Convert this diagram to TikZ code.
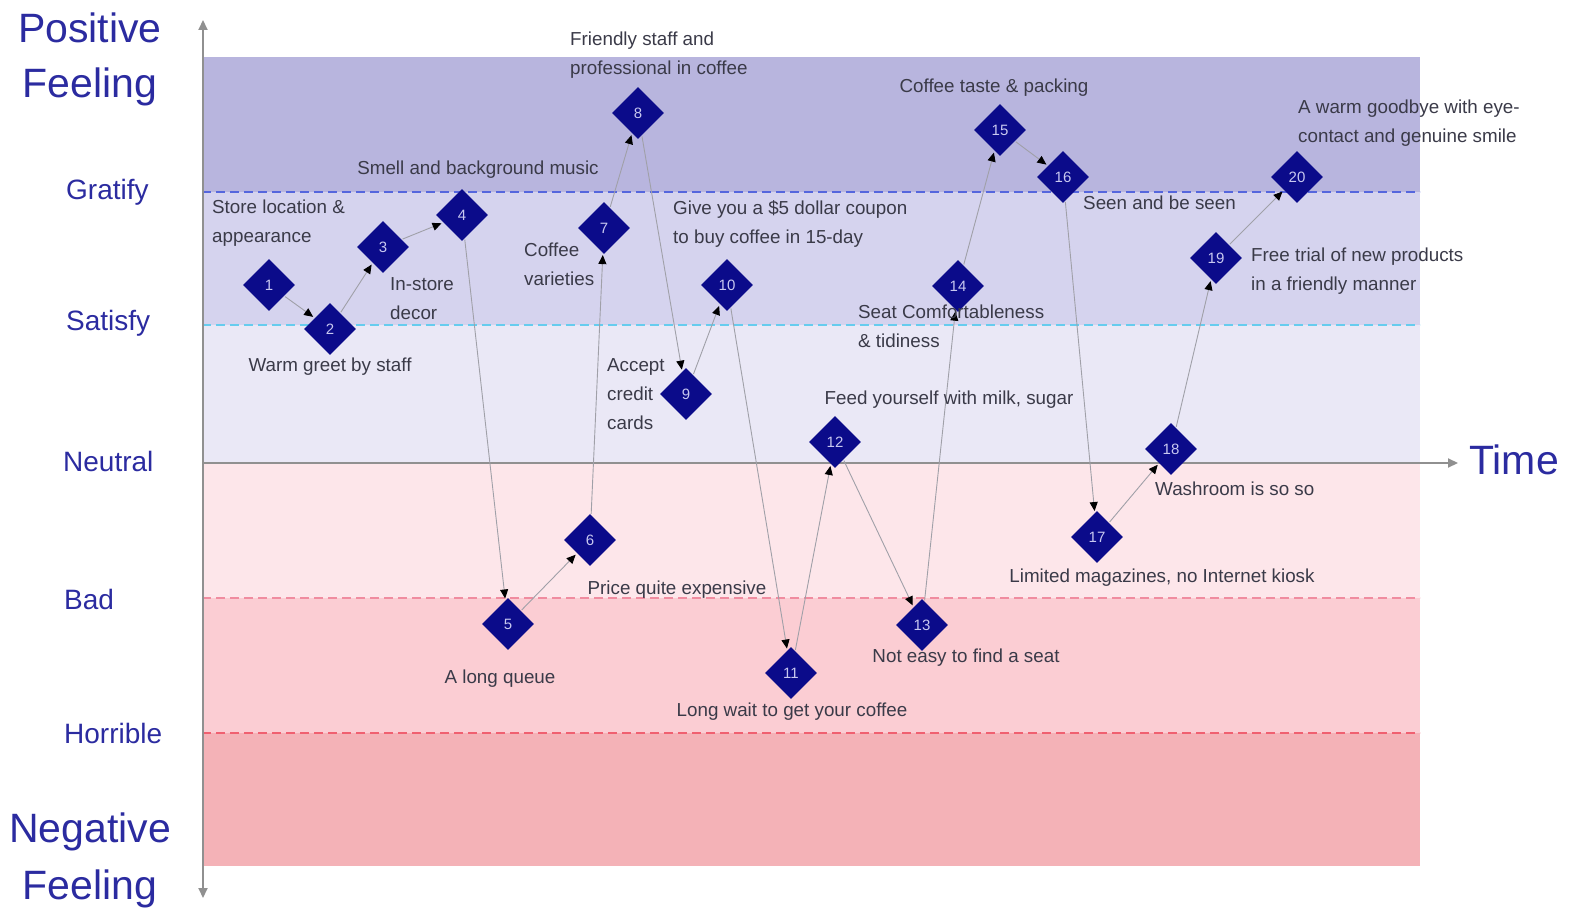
\documentclass[tikz,border=0pt]{standalone}
\usepackage{fontspec}
\setmainfont{Liberation Sans}
\usetikzlibrary{shapes.geometric,arrows.meta}
\definecolor{bandA}{HTML}{B8B5DE}
\definecolor{bandB}{HTML}{D5D3EE}
\definecolor{bandC}{HTML}{EAE8F6}
\definecolor{bandD}{HTML}{FDE6EA}
\definecolor{bandE}{HTML}{FBCDD3}
\definecolor{bandF}{HTML}{F4B2B7}
\definecolor{gratline}{HTML}{5566DD}
\definecolor{satline}{HTML}{66CCEE}
\definecolor{badline}{HTML}{F08CA0}
\definecolor{horline}{HTML}{F06070}
\definecolor{axisgray}{HTML}{909090}
\definecolor{linegray}{HTML}{A0A0A8}
\definecolor{navy}{HTML}{0B0B8A}
\definecolor{numcol}{HTML}{C8C8F0}
\definecolor{titleblue}{HTML}{2B2BA0}
\definecolor{labelgray}{HTML}{3A3A48}
\tikzset{
  pt/.style={diamond, aspect=1, fill=navy, minimum width=52pt, minimum height=52pt, inner sep=0pt, text=numcol, font=\fontsize{15}{15}\selectfont},
  lbl/.style={text=labelgray, font=\fontsize{18.8}{29}\selectfont, align=left, inner sep=0pt},
  big/.style={text=titleblue, draw=titleblue, line width=0.5pt, font=\fontsize{41}{41}\selectfont, inner sep=0pt},
  lvl/.style={text=titleblue, font=\fontsize{28}{28}\selectfont, inner sep=0pt, anchor=west},
  conn/.style={draw=linegray, line width=0.9pt, -{Triangle[length=9pt,width=8pt,color=black]}, shorten >=2pt, shorten <=1pt},
  lev/.style={line width=2.6pt, dash pattern=on 9pt off 5pt},
  axis/.style={draw=axisgray, line width=2pt, -{Triangle[length=10pt,width=9pt,color=axisgray]}}
}
\begin{document}
\begin{tikzpicture}[x=1pt,y=-1pt]
\useasboundingbox (0,0) rectangle (1572,915);
% bands
\fill[bandA] (202,57) rectangle (1420,192);
\fill[bandB] (202,192) rectangle (1420,325);
\fill[bandC] (202,325) rectangle (1420,463);
\fill[bandD] (202,463) rectangle (1420,598);
\fill[bandE] (202,598) rectangle (1420,733);
\fill[bandF] (202,733) rectangle (1420,866);
% level lines
\draw[lev, gratline] (202,192) -- (1420,192);
\draw[lev, satline] (202,325) -- (1420,325);
\draw[lev, badline] (202,598) -- (1420,598);
\draw[lev, horline] (202,733) -- (1420,733);
% axes
\coordinate (vmid) at (203,463);
\coordinate (vtop) at (203,20);
\coordinate (vbot) at (203,898);
\coordinate (tend) at (1458,463);
\draw[axis] (vmid) -- (vtop);
\draw[axis] (vmid) -- (vbot);
\draw[axis] (vmid) -- (tend);
% left titles
\node[text=titleblue, font=\fontsize{41}{41}\selectfont, inner sep=0pt] (pos1) at (90,28) {Positive};
\node[text=titleblue, font=\fontsize{41}{41}\selectfont, inner sep=0pt] (pos2) at (90,87) {Feeling};
\node[text=titleblue, font=\fontsize{41}{41}\selectfont, inner sep=0pt] (neg1) at (90,832) {Negative};
\node[text=titleblue, font=\fontsize{41}{41}\selectfont, inner sep=0pt] (neg2) at (90,889) {Feeling};
\node[text=titleblue, font=\fontsize{41}{41}\selectfont, inner sep=0pt] (time) at (1514,460) {Time};
\node[lvl] (lg) at (66,192) {Gratify};
\node[lvl] (ls) at (66,323) {Satisfy};
\node[lvl] (ln) at (63,461) {Neutral};
\node[lvl] (lb) at (64,599) {Bad};
\node[lvl] (lh) at (64,733) {Horrible};
% points
\node[pt] (p1) at (269,285) {1};
\node[pt] (p2) at (330,329) {2};
\node[pt] (p3) at (383,247) {3};
\node[pt] (p4) at (462,215) {4};
\node[pt] (p5) at (508,624) {5};
\node[pt] (p6) at (590,540) {6};
\node[pt] (p7) at (604,228) {7};
\node[pt] (p8) at (638,113) {8};
\node[pt] (p9) at (686,394) {9};
\node[pt] (p10) at (727,285) {10};
\node[pt] (p11) at (791,673) {11};
\node[pt] (p12) at (835,442) {12};
\node[pt] (p13) at (922,625) {13};
\node[pt] (p14) at (958,286) {14};
\node[pt] (p15) at (1000,130) {15};
\node[pt] (p16) at (1063,177) {16};
\node[pt] (p17) at (1097,537) {17};
\node[pt] (p18) at (1171,449) {18};
\node[pt] (p19) at (1216,258) {19};
\node[pt] (p20) at (1297,177) {20};
% connectors
\draw[conn] (p1) -- (p2);
\draw[conn] (p2) -- (p3);
\draw[conn] (p3) -- (p4);
\draw[conn] (p4) -- (p5);
\draw[conn] (p5) -- (p6);
\draw[conn] (p6) -- (p7);
\draw[conn] (p7) -- (p8);
\draw[conn] (p8) -- (p9);
\draw[conn] (p9) -- (p10);
\draw[conn] (p10) -- (p11);
\draw[conn] (p11) -- (p12);
\draw[conn] (p12) -- (p13);
\draw[conn] (p13) -- (p14);
\draw[conn] (p14) -- (p15);
\draw[conn] (p15) -- (p16);
\draw[conn] (p16) -- (p17);
\draw[conn] (p17) -- (p18);
\draw[conn] (p18) -- (p19);
\draw[conn] (p19) -- (p20);
% labels
\node[lbl, anchor=west] (t1) at (212,223.5) {Store location \&\\appearance};
\node[lbl] (t2) at (330,367) {Warm greet by staff};
\node[lbl, anchor=west] (t3) at (390,299) {In-store\\decor};
\node[lbl] (t4) at (478,170) {Smell and background music};
\node[lbl] (t5) at (500,679) {A long queue};
\node[lbl] (t6) at (677,590) {Price quite expensive};
\node[lbl, anchor=west] (t7) at (524,264.5) {Coffee\\varieties};
\node[lbl, anchor=west] (t8) at (570,55.5) {Friendly staff and\\professional in coffee};
\node[lbl, anchor=west] (t9) at (607,394) {Accept\\credit\\cards};
\node[lbl, anchor=west] (t10) at (673,223.5) {Give you a \$5 dollar coupon\\to buy coffee in 15-day};
\node[lbl] (t11) at (792,712) {Long wait to get your coffee};
\node[lbl] (t12) at (949,400) {Feed yourself with milk, sugar};
\node[lbl] (t13) at (966,658) {Not easy to find a seat};
\node[lbl, anchor=west] (t14) at (858,326.5) {Seat Comfortableness\\\& tidiness};
\node[lbl] (t15) at (994,88) {Coffee taste \& packing};
\node[lbl, anchor=west] (t16) at (1083,203) {Seen and be seen};
\node[lbl] (t17) at (1162,578) {Limited magazines, no Internet kiosk};
\node[lbl, anchor=west] (t18) at (1155,489) {Washroom is so so};
\node[lbl, anchor=west] (t19) at (1251,271.5) {Free trial of new products\\in a friendly manner};
\node[lbl, anchor=west] (t20) at (1298,123) {A warm goodbye with eye-\\contact and genuine smile};
\end{tikzpicture}
\end{document}
